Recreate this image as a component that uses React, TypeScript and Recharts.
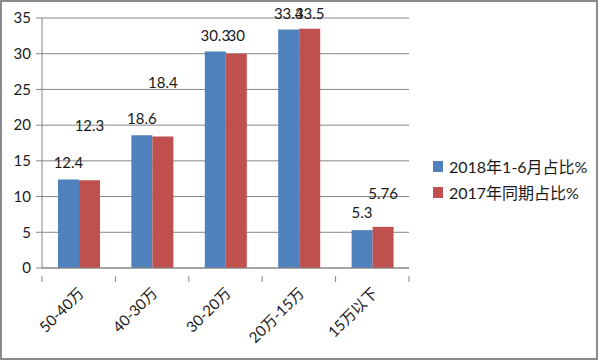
import { FC } from "react";
import { Bar, BarChart, CartesianGrid, LabelList, XAxis, YAxis } from "recharts";

const categories = ["50-40万", "40-30万", "30-20万", "20万-15万", "15万以下"];
const share2018 = [12.4, 18.6, 30.3, 33.4, 5.3];
const share2017 = [12.3, 18.4, 30, 33.5, 5.76];
const yTicks = [0, 5, 10, 15, 20, 25, 30, 35];
const seriesNames = ["2018年1-6月占比%", "2017年同期占比%"];
const colors = ["#4F81BD", "#C0504D"];

// excel dropped the labels at odd heights, lift in px above the bar top
const blueLift = [17, 17, 17, 16, 18];
const redLift = [55, 55, 19, 16, 34];

const FONT = "Lato, 'Noto Sans CJK SC', sans-serif";
const GRID = "#868686";
const PLOT_W = 367;

const data = categories.map((name, i) => ({ name, a: share2018[i], b: share2017[i] }));

const makeLabel = (lift: number[]) => (props: any) => {
  const { x, y, width, value, index } = props;
  return (
    <text x={ x + width / 2 } y={ y - lift[index] } textAnchor="middle" dominantBaseline="central"
      fontSize={ 15 } fontFamily={ FONT } fill="#1a1a1a">
      { value }
    </text>
  );
};

const XTick: FC<any> = ({ x, y, payload, index }) => {
  const band = PLOT_W / categories.length;
  const tx = x + 2;
  const ty = y + 14;
  return (
    <g>
      <line x1={ x - band / 2 } x2={ x - band / 2 } y1={ y } y2={ y + 6 } stroke={ GRID }/>
      { index === categories.length - 1 &&
        <line x1={ x + band / 2 } x2={ x + band / 2 } y1={ y } y2={ y + 6 } stroke={ GRID }/> }
      <text x={ tx } y={ ty } transform={ `rotate(-45, ${ tx }, ${ ty })` } textAnchor="end"
        dominantBaseline="central" fontSize={ 15 } fontFamily={ FONT } fill="#1a1a1a">
        { payload.value }
      </text>
    </g>
  );
};

const LegendBox = () => (
  <div style={ { position: "absolute", left: 433, top: 153, fontFamily: FONT, fontSize: 16, color: "#1a1a1a" } }>
    { seriesNames.map((n, i) => (
      <div key={ n } style={ { display: "flex", alignItems: "center", height: 26 } }>
        <span style={ { width: 10, height: 11, background: colors[i], marginRight: 6 } }/>
        <span>{ n }</span>
      </div>
    )) }
  </div>
);

export default function App() {
  return (
    <div style={ { position: "absolute", left: 0, top: 0, width: 600, height: 361, background: "#fff" } }>
      <BarChart width={ 600 } height={ 361 } data={ data } barGap={ 0 }
        margin={ { top: 18, right: 191, bottom: 0, left: 0 } }>
        <CartesianGrid vertical={ false } stroke={ GRID }/>
        <XAxis dataKey="name" axisLine={ { stroke: GRID } } tickLine={ false } tick={ <XTick/> }
          interval={ 0 } height={ 93 }/>
        <YAxis width={ 42 } domain={ [0, 35] } ticks={ yTicks } axisLine={ { stroke: GRID } }
          tickLine={ { stroke: GRID } } tickSize={ 6 } tickMargin={ 5 }
          tick={ { fontSize: 15, fontFamily: FONT, fill: "#1a1a1a" } }/>
        <Bar dataKey="a" name={ seriesNames[0] } fill={ colors[0] } barSize={ 21 } isAnimationActive={ false }>
          <LabelList dataKey="a" content={ makeLabel(blueLift) }/>
        </Bar>
        <Bar dataKey="b" name={ seriesNames[1] } fill={ colors[1] } barSize={ 21 } isAnimationActive={ false }>
          <LabelList dataKey="b" content={ makeLabel(redLift) }/>
        </Bar>
      </BarChart>
      <LegendBox/>
      <div style={ { position: "absolute", left: 0, top: 0, width: 598, height: 360, boxSizing: "border-box",
        border: "2px solid #8a8a8a", pointerEvents: "none" } }/>
    </div>
  );
}
